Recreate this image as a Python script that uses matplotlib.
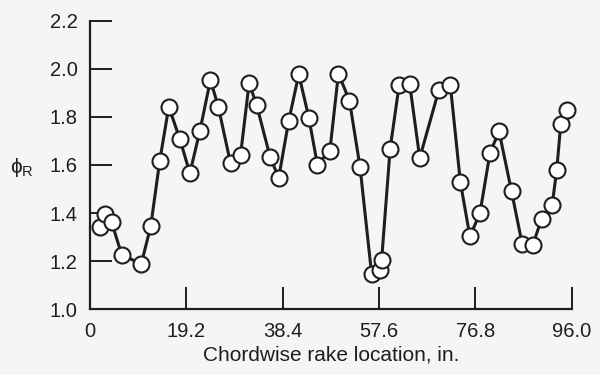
import matplotlib.pyplot as plt

plt.rcParams['font.family'] = ['Liberation Sans', 'DejaVu Sans']
plt.rcParams['mathtext.fontset'] = 'custom'
plt.rcParams['mathtext.rm'] = 'Liberation Sans'
plt.rcParams['mathtext.it'] = 'Liberation Sans'

# rake location (in.) and phi_R
location = [2.0, 3.0, 4.3, 6.3, 10.2, 12.1, 13.9, 15.7, 17.9, 19.9,
            21.9, 24.0, 25.6, 28.0, 30.0, 31.7, 33.2, 35.9, 37.6, 39.6,
            41.6, 43.6, 45.3, 47.8, 49.5, 51.7, 53.8, 56.1, 57.8, 58.1,
            59.8, 61.6, 63.7, 65.7, 69.5, 71.8, 73.8, 75.7, 77.7, 79.7,
            81.5, 84.0, 86.1, 88.2, 90.0, 92.1, 93.0, 93.8, 95.0]
phi_r = [1.342, 1.395, 1.363, 1.228, 1.188, 1.345, 1.618, 1.842, 1.708, 1.566,
         1.742, 1.954, 1.839, 1.607, 1.642, 1.940, 1.850, 1.632, 1.547, 1.784,
         1.977, 1.797, 1.602, 1.660, 1.980, 1.867, 1.593, 1.149, 1.163, 1.204,
         1.667, 1.933, 1.936, 1.629, 1.911, 1.932, 1.528, 1.303, 1.400, 1.650,
         1.740, 1.490, 1.273, 1.266, 1.377, 1.435, 1.580, 1.770, 1.828]

xticks = [0, 19.2, 38.4, 57.6, 76.8, 96.0]
xticklabels = ['0', '19.2', '38.4', '57.6', '76.8', '96.0']
yticks = [1.0, 1.2, 1.4, 1.6, 1.8, 2.0, 2.2]

bg = '#f5f5f3'
ink = '#1e1e1e'

fig = plt.figure(figsize=(6, 3.75), dpi=100, facecolor=bg)
ax = fig.add_axes([0.15, 0.175, 0.803, 0.77], facecolor=bg)

ax.plot(location, phi_r, '-', color=ink, lw=2.2, clip_on=False, zorder=2)
ax.plot(location, phi_r, 'o', mfc='white', mec=ink, mew=1.5, ms=11.5,
        clip_on=False, zorder=3)

ax.set_xlim(0, 96)
ax.set_ylim(1.0, 2.2)
ax.set_xticks(xticks)
ax.set_xticklabels(xticklabels)
ax.set_yticks(yticks)
ax.set_yticklabels(['%.1f' % v for v in yticks])

for s in ['top', 'right']:
    ax.spines[s].set_visible(False)
for s in ['left', 'bottom']:
    ax.spines[s].set_linewidth(1.6)
    ax.spines[s].set_color(ink)

ax.tick_params(direction='in', length=16, width=1.4, color=ink,
               labelsize=14.5, labelcolor=ink)
ax.tick_params(axis='x', pad=9)
ax.tick_params(axis='y', pad=9)

ax.set_xlabel('Chordwise rake location, in.', fontsize=15, color=ink,
              labelpad=3)
fig.text(0.037, 0.553, r'$\phi_\mathrm{R}$', fontsize=15, color=ink,
         ha='center', va='center')

fig.savefig('out.png', dpi=100, facecolor=bg)
